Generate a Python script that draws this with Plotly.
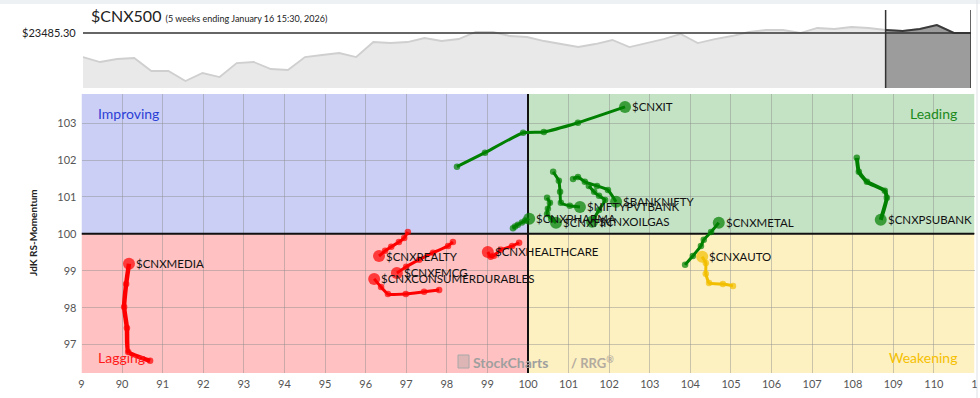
import plotly.graph_objects as go

W, H = 980, 398

# ---------------- data ----------------
benchmark = "$CNX500"
subtitle = "(5 weeks ending January 16 15:30, 2026)"
last_price = 23485.30
weekly_close = [22285, 22035, 22185, 22235, 21585, 21585, 21085, 21485, 21285, 21985,
                22035, 21685, 21635, 22285, 22385, 22485, 22285, 23035, 22985, 23035,
                23235, 23085, 23185, 23535, 23535, 23335, 23285, 23085, 22935, 22785,
                22935, 23135, 22785, 22985, 23185, 23435, 22985, 23185, 23335, 23535,
                23635, 23635, 23485, 23735, 23685, 23785, 23735, 23635, 23585, 23685,
                23885, 23485, 23485.30]
tail_weeks = 5

x_ticks = list(range(89, 112))
x_ticktext = ["9"] + [str(v) for v in range(90, 111)] + ["1"]
y_ticks = [97, 98, 99, 100, 101, 102, 103]

names = ["$CNXIT", "$CNXPSUBANK", "$BANKNIFTY", "$NIFTYPVTBANK", "$CNXPHARMA", "$CNXFIN",
         "$CNXOILGAS", "$CNXMETAL", "$CNXAUTO", "$CNXHEALTHCARE", "$CNXREALTY",
         "$CNXFMCG", "$CNXCONSUMERDURABLES", "$CNXMEDIA"]
quadrant = ["lead", "lead", "lead", "lead", "lead", "lead",
            "lead", "lead", "weak", "lag", "lag",
            "lag", "lag", "lag"]
rs_ratio = [
    [98.25, 98.94, 99.88, 100.39, 101.23, 102.39],
    [108.10, 108.15, 108.35, 108.79, 108.84, 108.69],
    [101.11, 101.23, 101.40, 101.70, 101.97, 102.17],
    [100.62, 100.76, 100.79, 100.81, 101.03, 101.28],
    [99.63, 99.68, 99.75, 99.85, 99.93, 100.03],
    [100.47, 100.54, 100.49, 100.47, 100.57, 100.69],
    [101.50, 101.63, 101.75, 101.90, 101.75, 101.58],
    [103.87, 104.06, 104.26, 104.33, 104.51, 104.70],
    [105.05, 104.80, 104.46, 104.38, 104.38, 104.29],
    [99.78, 99.61, 99.33, 99.16, 99.08, 99.01],
    [97.04, 96.95, 96.82, 96.63, 96.48, 96.33],
    [98.15, 98.03, 97.66, 97.32, 97.00, 96.77],
    [97.81, 97.44, 96.99, 96.55, 96.38, 96.21],
    [90.69, 90.15, 90.12, 90.05, 90.10, 90.17],
]
rs_momentum = [
    [101.82, 102.20, 102.74, 102.76, 103.01, 103.44],
    [102.06, 101.68, 101.41, 101.17, 100.98, 100.38],
    [101.49, 101.54, 101.41, 101.30, 101.19, 100.87],
    [101.68, 101.44, 101.14, 100.84, 100.76, 100.73],
    [100.15, 100.20, 100.25, 100.31, 100.36, 100.41],
    [100.98, 100.84, 100.68, 100.54, 100.41, 100.30],
    [101.30, 101.14, 101.03, 100.92, 100.65, 100.33],
    [99.16, 99.40, 99.67, 99.84, 100.05, 100.30],
    [98.59, 98.64, 98.67, 98.92, 99.21, 99.38],
    [99.76, 99.67, 99.57, 99.41, 99.38, 99.51],
    [100.05, 99.89, 99.78, 99.65, 99.54, 99.40],
    [99.78, 99.67, 99.49, 99.30, 99.11, 98.94],
    [98.48, 98.43, 98.37, 98.37, 98.56, 98.78],
    [96.56, 96.80, 97.45, 98.02, 98.64, 99.19],
]

colours = {"lead": "#008000", "weak": "#f2bf00", "lag": "#ff0000", "impr": "#2b3fd6"}
quad_fill = {"impr": "#cbcff5", "lead": "#c4e2c4", "lag": "#ffc1c1", "weak": "#fdf0c1"}

X_RANGE = [89, 111]
Y_RANGE = [96.23, 103.79]


def px(xp):
    return xp / W


def py(yp):
    return 1 - yp / H


fig = go.Figure()

for n, q, xs, ys in zip(names, quadrant, rs_ratio, rs_momentum):
    c = colours[q]
    lw = 4.5 if n == "$CNXMEDIA" else (4 if n == "$CNXPSUBANK" else 3)
    sizes = [6.5] * (len(xs) - 1) + [12]
    fig.add_trace(go.Scatter(
        x=xs, y=ys, mode="lines+markers",
        line=dict(color=c, width=lw, shape="spline", smoothing=0.4),
        marker=dict(color=c, size=sizes, line=dict(width=0)),
        xaxis="x", yaxis="y", showlegend=False, hoverinfo="skip"))

idx = list(range(len(weekly_close)))
fig.add_trace(go.Scatter(
    x=idx, y=weekly_close, mode="lines", fill="tozeroy",
    fillcolor="#e9e9e9", line=dict(color="#cfcfcf", width=1.8),
    xaxis="x2", yaxis="y2", showlegend=False, hoverinfo="skip"))
start = len(weekly_close) - 1 - tail_weeks
fig.add_trace(go.Scatter(
    x=idx[start:], y=weekly_close[start:], mode="lines", fill="tozeroy",
    fillcolor="#9c9c9c", line=dict(color="#3a3a3a", width=2),
    xaxis="x2", yaxis="y2", showlegend=False, hoverinfo="skip"))

shapes = []
for key, x0, x1, y0, y1 in [("impr", X_RANGE[0], 100, 100, Y_RANGE[1]),
                            ("lead", 100, X_RANGE[1], 100, Y_RANGE[1]),
                            ("lag", X_RANGE[0], 100, Y_RANGE[0], 100),
                            ("weak", 100, X_RANGE[1], Y_RANGE[0], 100)]:
    shapes.append(dict(type="rect", xref="x", yref="y", x0=x0, x1=x1, y0=y0, y1=y1,
                       fillcolor=quad_fill[key], line=dict(width=0), layer="below"))
shapes.append(dict(type="line", xref="x", yref="y", x0=100, x1=100, y0=Y_RANGE[0], y1=Y_RANGE[1],
                   line=dict(color="#111", width=2), layer="between"))
shapes.append(dict(type="line", xref="x", yref="y", x0=X_RANGE[0], x1=X_RANGE[1], y0=100, y1=100,
                   line=dict(color="#111", width=2), layer="between"))
shapes.append(dict(type="line", xref="x2 domain", yref="y2", x0=0, x1=1, y0=last_price, y1=last_price,
                   line=dict(color="#333", width=1.5), layer="above"))
for xi in (start, len(weekly_close) - 1):
    shapes.append(dict(type="line", xref="x2", yref="y2 domain", x0=xi, x1=xi, y0=0, y1=1,
                       line=dict(color="#333", width=1.5), layer="above"))
shapes.append(dict(type="rect", xref="paper", yref="paper", x0=0, x1=1, y0=py(4), y1=1,
                   fillcolor="#eef1f4", line=dict(width=0), layer="below"))
shapes.append(dict(type="line", xref="paper", yref="paper", x0=px(977), x1=px(977), y0=0, y1=1,
                   line=dict(color="#dde1e5", width=1), layer="below"))
shapes.append(dict(type="rect", xref="paper", yref="paper", x0=px(458), x1=px(469), y0=py(368), y1=py(355),
                   fillcolor="rgba(160,160,160,0.35)", line=dict(color="#a8a8a8", width=1), layer="above"))

ann = []
font = "Lato, 'Open Sans', sans-serif"
for n, xs, ys in zip(names, rs_ratio, rs_momentum):
    ann.append(dict(x=xs[-1], y=ys[-1], xref="x", yref="y", text=n, showarrow=False,
                    xanchor="left", yanchor="middle", xshift=5,
                    font=dict(family=font, size=11.5, color="#111")))
ann += [
    dict(x=px(96), y=py(113), xref="paper", yref="paper", text="Improving", showarrow=False,
         xanchor="left", yanchor="middle", font=dict(family=font, size=14, color=colours["impr"])),
    dict(x=px(959), y=py(113), xref="paper", yref="paper", text="Leading", showarrow=False,
         xanchor="right", yanchor="middle", font=dict(family=font, size=14, color="#1b8a1b")),
    dict(x=px(96), y=py(357), xref="paper", yref="paper", text="Lagging", showarrow=False,
         xanchor="left", yanchor="middle", font=dict(family=font, size=14, color="#ff1a1a")),
    dict(x=px(959), y=py(357), xref="paper", yref="paper", text="Weakening", showarrow=False,
         xanchor="right", yanchor="middle", font=dict(family=font, size=14, color="#f5c000")),
    dict(x=px(471), y=py(362), xref="paper", yref="paper", text="<b>StockCharts</b>", showarrow=False,
         xanchor="left", yanchor="middle", font=dict(family=font, size=14, color="#9f9f9f")),
    dict(x=px(569), y=py(362), xref="paper", yref="paper", text="<b>/ RRG<sup>®</sup></b>", showarrow=False,
         xanchor="left", yanchor="middle", font=dict(family=font, size=13, color="#b3ab9f")),
    dict(x=px(33), y=py(233), xref="paper", yref="paper", text="<b>JdK RS-Momentum</b>", showarrow=False,
         textangle=-90, xanchor="center", yanchor="middle", font=dict(family=font, size=10, color="#222")),
    dict(x=px(89), y=py(16), xref="paper", yref="paper",
         text=benchmark + " <span style='font-size:9px'>" + subtitle + "</span>", showarrow=False,
         xanchor="left", yanchor="middle", font=dict(family=font, size=16, color="#222")),
    dict(x=px(78), y=py(33), xref="paper", yref="paper", text="${:.2f}".format(last_price),
         showarrow=False, xanchor="right", yanchor="middle", font=dict(family=font, size=11, color="#222")),
]

fig.update_layout(
    width=W, height=H, margin=dict(l=0, r=0, t=0, b=0, autoexpand=False),
    paper_bgcolor="white", plot_bgcolor="rgba(0,0,0,0)",
    shapes=shapes, annotations=ann,
    xaxis=dict(domain=[px(81.5), px(974.5)], range=X_RANGE, tickvals=x_ticks, ticktext=x_ticktext,
               showgrid=True, gridcolor="rgba(140,140,140,0.45)", gridwidth=1, zeroline=False,
               showline=False, ticks="", ticklabelstandoff=3,
               tickfont=dict(family=font, size=11, color="#555"),
               anchor="y", fixedrange=True, automargin=False),
    yaxis=dict(domain=[py(373), py(94)], range=Y_RANGE, tickvals=y_ticks,
               showgrid=True, gridcolor="rgba(140,140,140,0.45)", gridwidth=1, zeroline=False,
               showline=False, ticks="", ticklabelstandoff=4,
               tickfont=dict(family=font, size=11, color="#555"), anchor="x", fixedrange=True,
               automargin=False),
    xaxis2=dict(domain=[px(83), px(971)], range=[0, len(weekly_close) - 1], visible=False,
                anchor="y2", fixedrange=True, automargin=False),
    yaxis2=dict(domain=[py(88), py(10)], range=[20735.3, 24635.3], visible=False,
                anchor="x2", fixedrange=True, automargin=False),
)

fig.write_html("out.html", config={"displayModeBar": False},
               post_script="document.body.style.margin='0';document.body.style.overflow='hidden';")
